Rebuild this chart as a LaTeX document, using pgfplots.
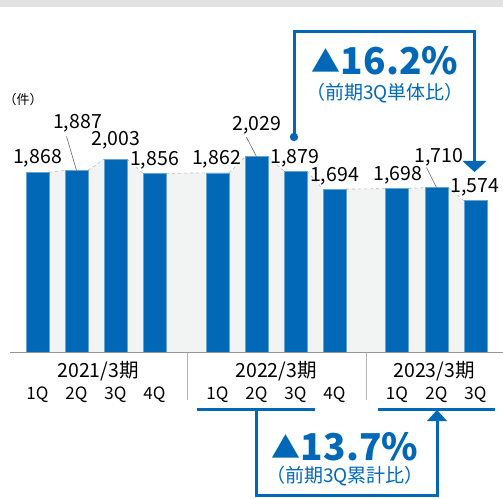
\documentclass[border=0pt]{standalone}
\usepackage{pgfplots}
\pgfplotsset{compat=1.18}
\usepackage{fontspec}
\setmainfont{Noto Sans CJK JP}
\definecolor{barblue}{RGB}{0,104,183}
\definecolor{bargray}{RGB}{242,243,243}
\definecolor{topgray}{RGB}{226,226,226}
\definecolor{axisgray}{RGB}{150,150,150}
\definecolor{dashgray}{RGB}{185,185,185}
\newcommand{\fs}[1]{\fontsize{#1}{#1}\selectfont}
\begin{document}
\begin{tikzpicture}
\path[use as bounding box] (0,0) rectangle (503pt,498pt);
\fill[topgray] (0,491.3pt) rectangle (503pt,498pt);
\begin{axis}[
  at={(10pt,145.3pt)}, anchor=south west,
  scale only axis, width=493pt, height=352.7pt,
  xmin=10, xmax=503, ymin=0, ymax=3651,
  hide axis, clip=false,
  unbounded coords=jump,
]
% grey background area
\addplot[fill=bargray, draw=none] coordinates {
 (26,0)(26,1868)(49,1868)(65,1887)(88,1887)(104,2003)(127,2003)(143,1856)(166,1856)
 (206,1862)(229,1862)(245,2029)(268,2029)(284,1879)(307,1879)(323,1694)(346,1694)
 (385.5,1698)(408.5,1698)(425,1710)(448,1710)(464,1574)(487,1574)(487,0)} -- cycle;
% dashed connectors
\addplot[dashgray, dashed, line width=0.6pt] coordinates {
 (49,1868)(65,1887)(56,nan)
 (88,1887)(104,2003)(95,nan)
 (127,2003)(143,1856)(135,nan)
 (166,1856)(206,1862)(210,nan)
 (229,1862)(245,2029)(240,nan)
 (268,2029)(284,1879)(275,nan)
 (307,1879)(323,1694)(315,nan)
 (346,1694)(385.5,1698)(390,nan)
 (408.5,1698)(425,1710)(415,nan)
 (448,1710)(464,1574)};
% bars
\addplot[ybar, bar width=23, fill=barblue, draw=barblue!60!white, line width=0.5pt] coordinates {
 (37.5,1868)(76.5,1887)(115.5,2003)(154.5,1856)
 (217.5,1862)(256.5,2029)(295.5,1879)(334.5,1694)
 (397,1698)(436.5,1710)(475.5,1574)};
% leader lines
\draw[gray!80!black, line width=0.6pt] (axis cs:76.5,1887) -- ++(0,34pt);
\draw[gray!80!black, line width=0.6pt] (axis cs:256.5,2029) -- ++(0,19.5pt);
\draw[gray!80!black, line width=0.6pt] (axis cs:436.5,1710) -- ++(0,20pt);
% value labels
\tikzset{vl/.style={font=\fs{19.5}, inner sep=0pt, anchor=center}}
\node[vl] at ([yshift=14pt]axis cs:37.5,1868) {1,868};
\node[vl] at ([yshift=47pt]axis cs:77.5,1887) {1,887};
\node[vl] at ([yshift=19pt]axis cs:116,2003) {2,003};
\node[vl] at ([yshift=13.5pt]axis cs:154.5,1856) {1,856};
\node[vl] at ([yshift=13.8pt]axis cs:216.5,1862) {1,862};
\node[vl] at ([yshift=31.5pt]axis cs:257,2029) {2,029};
\node[vl] at ([yshift=13.2pt]axis cs:295,1879) {1,879};
\node[vl] at ([yshift=13pt]axis cs:334.5,1694) {1,694};
\node[vl] at ([yshift=13.2pt]axis cs:398,1698) {1,698};
\node[vl] at ([yshift=30.5pt]axis cs:439,1710) {1,710};
\node[vl] at ([yshift=13.7pt]axis cs:475,1574) {1,574};
\end{axis}
% baseline and separators
\draw[axisgray, line width=1pt] (10pt,145.3pt) -- (503pt,145.3pt);
\draw[axisgray!70!white, line width=0.8pt] (187pt,145.3pt) -- (187pt,98pt);
\draw[axisgray!70!white, line width=0.8pt] (366pt,145.3pt) -- (366pt,98pt);
% unit
\node[font=\fs{13}, inner sep=0pt] at (23pt,398pt) {（件）};
% year labels
\tikzset{yl/.style={font=\fs{19.5}, inner sep=0pt}, ql/.style={font=\fs{17}, inner sep=0pt}}
\node[yl] at (98pt,127pt) {2021/3期};
\node[yl] at (276pt,127pt) {2022/3期};
\node[yl] at (434pt,127pt) {2023/3期};
\foreach \x/\q in {37.5/1Q,76.5/2Q,115.5/3Q,154.5/4Q,217.5/1Q,256.5/2Q,295.5/3Q,334.5/4Q,397/1Q,436.5/2Q,475.5/3Q}
  \node[ql] at (\x pt,103pt) {\q};
% top bracket
\draw[barblue, line width=3pt, line join=miter] (294pt,361pt) -- (294pt,466pt) -- (474.5pt,466pt) -- (474.5pt,337pt);
\fill[barblue] (294pt,361pt) circle (4.2pt);
\fill[barblue] (462.5pt,337pt) -- (486.5pt,337pt) -- (474.5pt,326pt) -- cycle;
\node[barblue, inner sep=0pt] at (385pt,437pt) {\raisebox{2pt}{\fs{29}▲}{\fs{37}\bfseries 16.2\%}};
\node[barblue, font=\fs{19}, inner sep=0pt] at (385pt,405pt) {（前期3Q単体比）};
% bottom bracket
\draw[barblue, line width=3pt] (197pt,89pt) -- (315pt,89pt);
\draw[barblue, line width=3pt] (378pt,89pt) -- (495pt,89pt);
\draw[barblue, line width=3pt, line join=miter] (256pt,89pt) -- (256pt,3pt) -- (437pt,3pt) -- (437pt,77pt);
\fill[barblue] (427pt,77pt) -- (447pt,77pt) -- (437pt,88pt) -- cycle;
\node[barblue, inner sep=0pt] at (345pt,51pt) {\raisebox{2pt}{\fs{29}▲}{\fs{37}\bfseries 13.7\%}};
\node[barblue, font=\fs{19}, inner sep=0pt] at (345pt,22pt) {（前期3Q累計比）};
\end{tikzpicture}
\end{document}
